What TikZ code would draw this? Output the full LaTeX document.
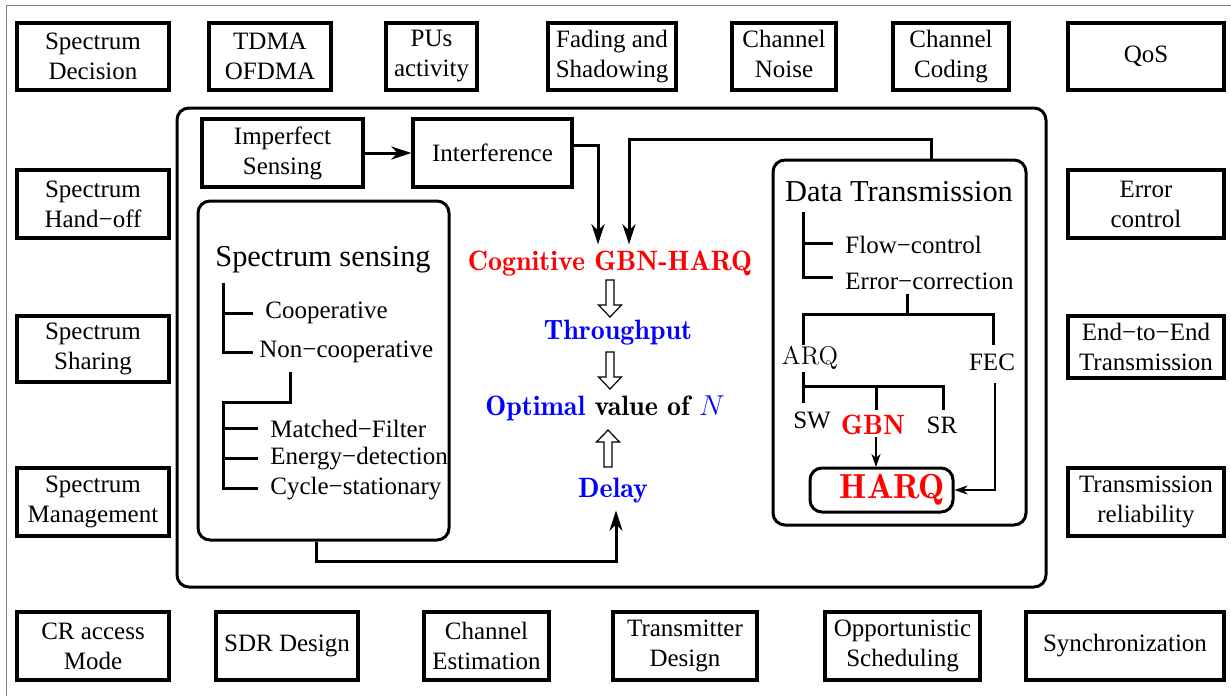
\documentclass[tikz,border=0pt]{standalone}
\usepackage{fontspec}
\setmainfont{Liberation Serif}
\usetikzlibrary{arrows.meta}

\newcommand\boxfont{\fontsize{12.5}{15}\selectfont}
\newcommand\titlefont{\fontsize{15.2}{18}\selectfont}
\newcommand\cmbold{\fontfamily{lmr}\bfseries\fontsize{14}{16}\selectfont}
\newcommand\cmrom{\fontfamily{lmr}\mdseries\fontsize{12.8}{15}\selectfont}

\tikzset{
    pbox/.style={draw, line width=1.6pt, align=center, inner sep=0pt, font=\boxfont},
    frame/.style={draw, line width=1.5pt, rounded corners=6pt},
    tree/.style={line width=1.5pt},
    arr/.style={line width=1.5pt, -{Stealth[length=10pt,width=6.5pt,inset=3pt]}},
    arrs/.style={line width=1pt, -{Stealth[length=6.5pt,width=4.5pt,inset=2pt]}},
    item/.style={anchor=west, inner sep=0pt, font=\boxfont},
    hollow/.pic={\draw[line width=0.6pt, fill=white] (-4,0) -- (4,0) -- (4,25) -- (11.5,25) -- (0,37) -- (-11.5,25) -- (-4,25) -- cycle;}
}

\begin{document}
\begin{tikzpicture}[x=0.5pt, y=-0.5pt]
    \useasboundingbox (0,0) rectangle (1231,696);
    \draw[gray, line width=0.5pt] (6,696) -- (6,5) -- (1231,5);

    % top row
    \node[pbox, minimum width=76pt, minimum height=33.5pt] (sdec)   at (93,56.5)    {Spectrum\\Decision};
    \node[pbox, minimum width=61pt, minimum height=33.5pt] (tdma)   at (270,56.5)   {TDMA\\OFDMA};
    \node[pbox, minimum width=45.5pt, minimum height=33.5pt] (pus)  at (431.5,56.5) {PUs\\activity};
    \node[pbox, minimum width=64pt, minimum height=33.5pt] (fade)   at (612,56.5)   {Fading and\\Shadowing};
    \node[pbox, minimum width=52pt, minimum height=33.5pt] (noise)  at (784,56.5)   {Channel\\Noise\vphantom{g}};
    \node[pbox, minimum width=58pt, minimum height=33.5pt] (coding) at (951,56.5)   {Channel\\Coding};
    \node[pbox, minimum width=78pt, minimum height=33.5pt] (qos)    at (1146,56.5)  {QoS};

    % side columns
    \node[pbox, minimum width=76pt, minimum height=34pt] (handoff) at (93,204)  {Spectrum\\Hand−off};
    \node[pbox, minimum width=76pt, minimum height=33pt] (sharing) at (93,349)  {Spectrum\\Sharing};
    \node[pbox, minimum width=76pt, minimum height=34pt] (manage)  at (93,502)  {Spectrum\\Management};
    \node[pbox, minimum width=78pt, minimum height=34pt] (errctl)  at (1146,204) {Error\\control};
    \node[pbox, minimum width=78pt, minimum height=31pt] (etoe)    at (1146,347) {End−to−End\\Transmission};
    \node[pbox, minimum width=78pt, minimum height=34pt] (reliab)  at (1146,502) {Transmission\\reliability};

    % bottom row
    \node[pbox, minimum width=76pt, minimum height=34pt] (cram)  at (93,646)     {CR access\\Mode};
    \node[pbox, minimum width=71pt, minimum height=34pt] (sdr)   at (287,646)    {SDR Design};
    \node[pbox, minimum width=62.5pt, minimum height=34pt] (chest) at (486.5,646) {Channel\\Estimation};
    \node[pbox, minimum width=72pt, minimum height=34pt] (txd)   at (685,646)    {Transmitter\\Design};
    \node[pbox, minimum width=77.5pt, minimum height=34pt] (opsch) at (902.5,646) {Opportunistic\\Scheduling};
    \node[pbox, minimum width=99pt, minimum height=34pt] (sync)  at (1125,646)   {Synchronization};

    % main frame
    \draw[frame] (177,108) rectangle (1046,587);
    \node[pbox, minimum width=80.5pt, minimum height=34pt] (imperf) at (282.5,153) {Imperfect\\Sensing};
    \node[pbox, minimum width=79.5pt, minimum height=34pt] (interf) at (492.5,153) {Interference};
    \draw[arr] (imperf) -- (interf);

    % spectrum sensing
    \node[frame, minimum width=125.5pt, minimum height=169.5pt] (ssbox) at (323.5,370.5) {};
    \node[font=\titlefont] (sstitle) at (323,260) {Spectrum sensing};
    \node[item] (coop)    at (265,313) {Cooperative};
    \node[item] (noncoop) at (259,352) {Non−cooperative};
    \node[item] (mf)      at (270,429) {Matched−Filter};
    \node[item] (ed)      at (270,459) {Energy−detection};
    \node[item] (cs)      at (270,489) {Cycle−stationary};
    \draw[tree] (223,283) -- (223,352) -- (253,352);
    \draw[tree] (223,313) -- (253,313);
    \draw[tree] (290,372) -- (290,402) -- (223,402) -- (223,488) -- (258,488);
    \draw[tree] (223,428) -- (258,428);
    \draw[tree] (223,458) -- (258,458);

    % centre column
    \node[font=\cmbold, text=red] (cgh) at (610,264) {Cognitive GBN-HARQ};
    \node[font=\cmbold, text=blue] (thr) at (618,333) {Throughput};
    \node[font=\cmbold] (opt) at (605,408) {\textcolor{blue}{Optimal} value of \textcolor{blue}{$N$}};
    \node[font=\cmbold, text=blue] (delay) at (613,491) {Delay};
    \pic at (610,280) {hollow};
    \pic at (610,352) {hollow};
    \pic[rotate=180] at (608,467) {hollow};

    % data transmission
    \node[frame, minimum width=126.5pt, minimum height=182.5pt] (dtbox) at (899.5,342.5) {};
    \node[font=\titlefont] (dttitle) at (899,192) {Data Transmission};
    \node[item] (flow) at (845,245) {Flow−control};
    \node[item] (errc) at (845,281) {Error−correction};
    \draw[tree] (803,212) -- (803,277) -- (833,277);
    \draw[tree] (803,243) -- (833,243);
    \draw[tree] (907,294) -- (907,314);
    \draw[tree] (803,345) |- (993,314) -- (993,345);
    \node[font=\cmrom] (arq) at (810,358) {ARQ};
    \node[font=\boxfont] (fec) at (992,362) {FEC};
    \node[font=\boxfont] (sw) at (812,420) {SW};
    \node[font=\cmbold, text=red] (gbn) at (873,425) {GBN};
    \node[font=\boxfont] (sr) at (942,425) {SR};
    \draw[tree] (803,372) -- (803,403);
    \draw[tree] (803,386) -- (943,386) -- (943,410);
    \draw[tree] (876,386) -- (876,410);
    \node[draw, line width=1.5pt, rounded corners=6pt, minimum width=71.5pt, minimum height=22pt, inner sep=0pt,
          font=\fontfamily{lmr}\bfseries\fontsize{17.4}{19}\selectfont, text=red] (harq) at (881.5,490) {\hspace*{11pt}HARQ};
    \draw[arrs] (876,437) -- (876,467);
    \draw[arrs] ([xshift=1.5pt,yshift=-3pt]fec.south) |- (harq.east);

    % connectors into the centre
    \draw[arr] ([yshift=4pt]interf.east) -| ([xshift=-6pt]cgh.north);
    \draw[arr] ([xshift=16pt]dtbox.north) -- ++(0,-19) -| ([xshift=9.5pt]cgh.north);
    \draw[arr] (ssbox.south -| 316,540) -- (316,561) -| ([xshift=1.5pt]delay.south);
\end{tikzpicture}
\end{document}
